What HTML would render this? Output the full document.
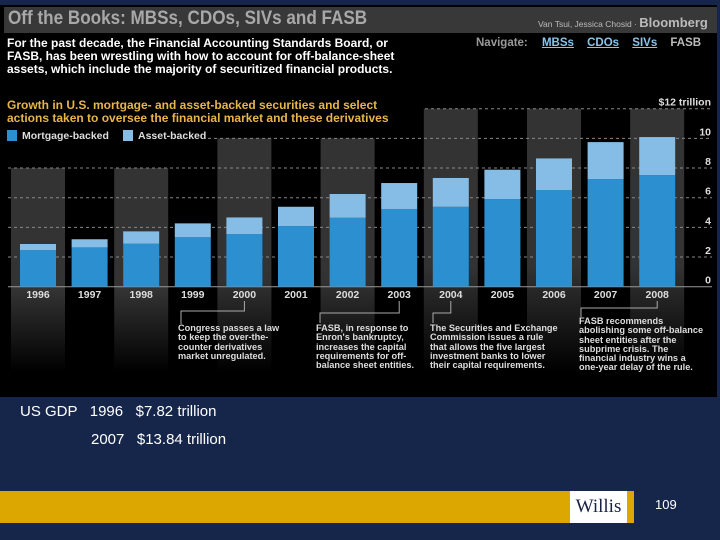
<!DOCTYPE html>
<html><head><meta charset="utf-8"><style>
body{margin:0;width:720px;height:540px;background:#16264a;overflow:hidden;font-family:"Liberation Sans",sans-serif;position:relative}
.a{position:absolute;white-space:nowrap}
</style></head><body>
<div class="a" style="left:0;top:5px;width:717px;height:392px;background:#000"></div>
<div class="a" style="left:4px;top:7px;width:713px;height:26px;background:#383838"></div>
<div class="a" style="left:8px;top:8px;font-size:19px;font-weight:bold;color:#a8a8a8;transform:scaleX(0.9);transform-origin:left">Off the Books: MBSs, CDOs, SIVs and FASB</div>
<div class="a" style="left:538px;top:15px;font-size:8.5px;color:#bbb">Van Tsui, Jessica Chosid · <span style="font-size:13px;font-weight:bold;color:#bbb">Bloomberg</span></div>
<div class="a" style="left:7px;top:37px;font-size:12px;font-weight:bold;color:#fff;line-height:13px">For the past decade, the Financial Accounting Standards Board, or<br>FASB, has been wrestling with how to account for off-balance-sheet<br>assets, which include the majority of securitized financial products.</div>
<div class="a" style="left:476px;top:37px;font-size:11.5px;font-weight:bold;color:#999">Navigate:
<span style="color:#8cc4e8;text-decoration:underline;margin-left:11px">MBSs</span>
<span style="color:#8cc4e8;text-decoration:underline;margin-left:10px">CDOs</span>
<span style="color:#8cc4e8;text-decoration:underline;margin-left:10px">SIVs</span>
<span style="color:#bbb;margin-left:10px">FASB</span></div>
<div class="a" style="left:7px;top:99px;font-size:12px;font-weight:bold;color:#e8b54a;line-height:12.5px">Growth in U.S. mortgage- and asset-backed securities and select<br>actions taken to oversee the financial market and these derivatives</div>
<svg class="a" style="left:0;top:0" width="720" height="400" id="chart">
<defs><linearGradient id="fade" x1="0" y1="0" x2="0" y2="1"><stop offset="0.6" stop-color="#333"/><stop offset="1" stop-color="#000"/></linearGradient></defs>
<g id="cols"></g><g id="grid"></g><g id="bars"></g><g id="labels"></g>
<g>
<rect x="7" y="130" width="10" height="11" fill="#2b8fd0"/><text x="22" y="139" fill="#ddd" font-size="10.5" font-weight="bold">Mortgage-backed</text>
<rect x="123" y="130" width="10" height="11" fill="#86bde6"/><text x="138" y="139" fill="#ddd" font-size="10.5" font-weight="bold">Asset-backed</text>
</g>
</svg>
<div class="a" style="left:178px;top:324px;font-size:9.2px;font-weight:bold;color:#ddd;line-height:9.3px">Congress passes a law<br>to keep the over-the-<br>counter derivatives<br>market unregulated.</div>
<div class="a" style="left:316px;top:324px;font-size:9.2px;font-weight:bold;color:#ddd;line-height:9.3px">FASB, in response to<br>Enron's bankruptcy,<br>increases the capital<br>requirements for off-<br>balance sheet entities.</div>
<div class="a" style="left:430px;top:324px;font-size:9.2px;font-weight:bold;color:#ddd;line-height:9.3px">The Securities and Exchange<br>Commission issues a rule<br>that allows the five largest<br>investment banks to lower<br>their capital requirements.</div>
<div class="a" style="left:579px;top:317px;font-size:9.2px;font-weight:bold;color:#ddd;line-height:9.3px">FASB recommends<br>abolishing some off-balance<br>sheet entities after the<br>subprime crisis. The<br>financial industry wins a<br>one-year delay of the rule.</div>
<div class="a" style="left:20px;top:403px;font-size:15px;color:#fff">US GDP &nbsp; 1996 &nbsp; $7.82 trillion</div>
<div class="a" style="left:91px;top:431px;font-size:15px;color:#fff">2007 &nbsp; $13.84 trillion</div>
<div class="a" style="left:0;top:491px;width:634px;height:32px;background:#dca800"></div>
<div class="a" style="left:570px;top:491px;width:57px;height:32px;background:#fff;color:#1a2244;font-family:'Liberation Serif',serif;font-size:19px;text-align:center;line-height:32px">Willis</div>
<div class="a" style="left:655px;top:497px;font-size:13px;color:#fff">109</div>
<script>
const years=["1996","1997","1998","1999","2000","2001","2002","2003","2004","2005","2006","2007","2008"];
const mortgage=[2.47,2.65,2.9,3.33,3.55,4.09,4.65,5.24,5.39,5.91,6.52,7.26,7.53];
const totals=[2.88,3.2,3.73,4.27,4.67,5.39,6.25,6.99,7.33,7.89,8.65,9.75,10.09];
const yTicks=[0,2,4,6,8,10,12];
const highlightYears=["1996","1998","2000","2002","2004","2006","2008"];
const highlightTops=[8,8,10,10,12,12,12];
const ns="http://www.w3.org/2000/svg";
const y=v=>286.7-v*14.83;
const bw=36;
const x=i=>20+i*51.6;
function mk(t,a,p){const e=document.createElementNS(ns,t);for(const k in a)e.setAttribute(k,a[k]);p.appendChild(e);return e;}
const cols=document.getElementById('cols'),grid=document.getElementById('grid'),bars=document.getElementById('bars'),labels=document.getElementById('labels');
highlightYears.forEach((yr,j)=>{const i=years.indexOf(yr);
const r=mk('rect',{x:x(i)-9,y:y(highlightTops[j]),width:54,height:372-y(highlightTops[j]),fill:'url(#fade)'},cols);

});
yTicks.forEach(t=>{
const l=mk('line',{x1:t==12?425:(t==10?208:8),x2:712,y1:y(t),y2:y(t),stroke:t==0?'#999':'#888','stroke-dasharray':t==0?'':'3,3','stroke-width':1},grid);


const tx=mk('text',{x:711,y:y(t)-3,fill:'#ddd','font-size':10.5,'font-weight':'bold','text-anchor':'end'},grid);
tx.textContent=t==12?'$12 trillion':t;

});
years.forEach((yr,i)=>{
const m=mk('rect',{x:x(i),y:y(mortgage[i]),width:bw,height:y(0)-y(mortgage[i]),fill:'#2b8fd0'},bars);


const a=mk('rect',{x:x(i),y:y(totals[i]),width:bw,height:y(mortgage[i])-y(totals[i]),fill:'#86bde6'},bars);


const t=mk('text',{x:x(i)+bw/2,y:298,fill:'#ddd','font-size':10.5,'font-weight':'bold','text-anchor':'middle'},labels);
t.textContent=yr;

});
[["2000",181,311,324],["2003",320,313,323],["2004",433,313,323],["2008",581,308,317]].forEach(([yr,tx,hy,ey])=>{const i=years.indexOf(yr);const cx=x(i)+bw/2;
const p=mk('polyline',{points:`${cx},301 ${cx},${hy} ${tx},${hy} ${tx},${ey}`,fill:'none',stroke:'#aaa','stroke-width':1},labels);

});
</script>
</body></html>
